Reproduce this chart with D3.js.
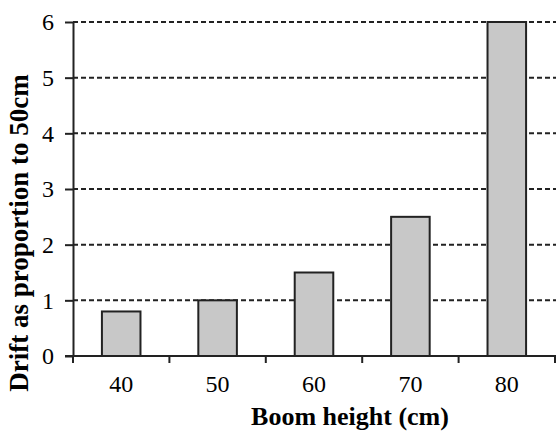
<!DOCTYPE html>
<html>
<head>
<meta charset="utf-8">
<script src="https://cdn.jsdelivr.net/npm/d3@7"></script>
<style>
  html, body { margin: 0; padding: 0; background: #fff; }
  svg { display: block; }
  svg text { font-family: "Liberation Serif", "Times New Roman", serif !important; fill: #000; }
</style>
</head>
<body>
<svg id="chart" width="556" height="432"></svg>
<script>
// Drift relative to a 50 cm boom, by boom height
const boomHeights = ["40", "50", "60", "70", "80"];
const driftValues = [0.8, 1.0, 1.5, 2.5, 6.0];
const yTicks = [0, 1, 2, 3, 4, 5, 6];

const xTitle = "Boom height (cm)";
const yTitle = "Drift as proportion to 50cm";

const W = 556, H = 432;
const plot = { left: 73, right: 555, top: 22, bottom: 356 };
const axisColor = "#222";
const serif = "'Liberation Serif', 'Times New Roman', serif";
const tickFont = "24px";

const svg = d3.select("#chart");

const x = d3.scaleBand()
  .domain(boomHeights)
  .range([plot.left, plot.right])
  .paddingInner(0.6)
  .paddingOuter(0.3);

const y = d3.scaleLinear()
  .domain([0, 6])
  .range([plot.bottom, plot.top]);

// dashed horizontal gridlines
svg.append("g")
  .selectAll("line")
  .data(yTicks.filter(d => d > 0))
  .join("line")
  .attr("x1", plot.left)
  .attr("x2", W)
  .attr("y1", d => y(d))
  .attr("y2", d => y(d))
  .attr("stroke", "#222")
  .attr("stroke-width", 2)
  .attr("stroke-dasharray", "5,3");

// bars
svg.append("g")
  .selectAll("rect")
  .data(boomHeights.map((h, i) => ({ h, v: driftValues[i] })))
  .join("rect")
  .attr("x", d => x(d.h))
  .attr("y", d => y(d.v))
  .attr("width", x.bandwidth())
  .attr("height", d => y(0) - y(d.v))
  .attr("fill", "#c8c8c8")
  .attr("stroke", axisColor)
  .attr("stroke-width", 2);

// y axis
const yAxis = svg.append("g")
  .attr("transform", `translate(${plot.left},0)`)
  .call(d3.axisLeft(y).tickValues(yTicks).tickFormat(d3.format("d")).tickSizeInner(8).tickSizeOuter(0).tickPadding(11));
yAxis.attr("font-family", serif).attr("font-size", 24);
yAxis.select(".domain").attr("stroke", axisColor).attr("stroke-width", 2);
yAxis.selectAll(".tick line").attr("stroke", axisColor).attr("stroke-width", 2);
yAxis.selectAll(".tick text")
  .style("font-family", serif)
  .style("font-size", tickFont)
  .attr("fill", "#000");

// x axis baseline
svg.append("line")
  .attr("x1", plot.left - 8)
  .attr("x2", W)
  .attr("y1", y(0))
  .attr("y2", y(0))
  .attr("stroke", axisColor)
  .attr("stroke-width", 2);

// x tick marks on category boundaries
const gap = x.step() - x.bandwidth();
const boundaries = boomHeights.map(h => x(h) - gap / 2).concat([x(boomHeights[boomHeights.length - 1]) + x.bandwidth() + gap / 2]);
svg.append("g")
  .selectAll("line")
  .data(boundaries)
  .join("line")
  .attr("x1", d => d)
  .attr("x2", d => d)
  .attr("y1", y(0))
  .attr("y2", y(0) + 7)
  .attr("stroke", axisColor)
  .attr("stroke-width", 2);

// x tick labels
svg.append("g")
  .selectAll("text")
  .data(boomHeights)
  .join("text")
  .attr("x", d => x(d) + x.bandwidth() / 2)
  .attr("y", 392)
  .attr("text-anchor", "middle")
  .style("font-family", serif)
  .style("font-size", tickFont)
  .text(d => d);

// axis titles
svg.append("text")
  .attr("x", 350)
  .attr("y", 425)
  .attr("text-anchor", "middle")
  .style("font-family", serif)
  .style("font-size", "26px")
  .attr("font-weight", "bold")
  .text(xTitle);

svg.append("text")
  .attr("transform", "translate(28,233) rotate(-90)")
  .attr("text-anchor", "middle")
  .style("font-family", serif)
  .style("font-size", "27px")
  .attr("font-weight", "bold")
  .text(yTitle);
</script>
</body>
</html>
